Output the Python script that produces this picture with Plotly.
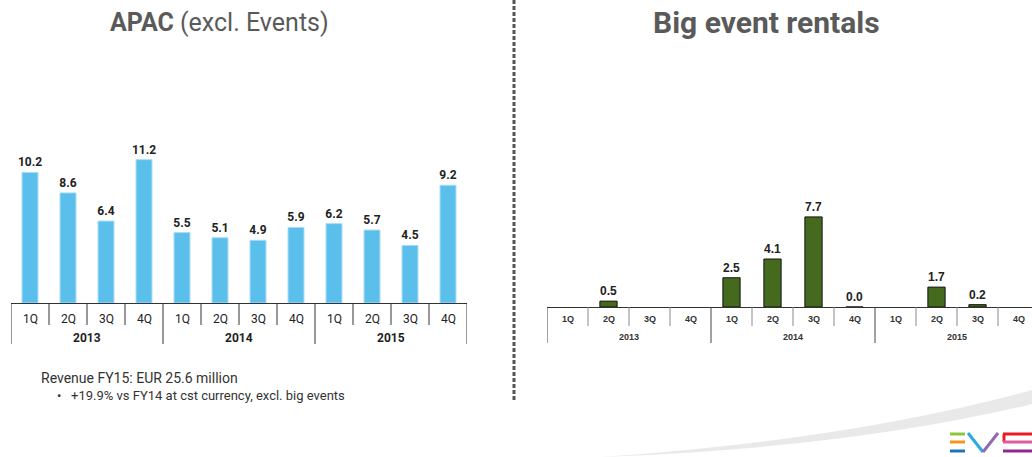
import plotly.graph_objects as go

W, H = 1032, 457

quarters = ["1Q", "2Q", "3Q", "4Q"] * 3
years = ["2013", "2014", "2015"]
apac = [10.2, 8.6, 6.4, 11.2, 5.5, 5.1, 4.9, 5.9, 6.2, 5.7, 4.5, 9.2]
events = [None, 0.5, None, None, 2.5, 4.1, 7.7, 0.0, None, 1.7, 0.2, None]
title_left_bold = "APAC"
title_left_rest = "(excl. Events)"
title_right = "Big event rentals"
note_main = "Revenue FY15: EUR 25.6 million"
note_bullet = "+19.9% vs FY14 at cst currency, excl. big events"


def px(x):
    return x / W


def py(y):
    return 1 - y / H


idx = list(range(len(quarters)))

fig = go.Figure()
fig.add_trace(go.Bar(
    x=idx, y=apac, xaxis="x", yaxis="y", width=0.42,
    marker=dict(color="#5BBFEC", line=dict(color="#A8DCF5", width=1)),
    texttemplate="%{y:.1f}", textposition="outside", constraintext="none",
    textfont=dict(family="Roboto", size=12, color="#222222", weight="bold"),
    cliponaxis=False, showlegend=False, hoverinfo="skip",
))
fig.add_trace(go.Bar(
    x=idx, y=events, xaxis="x2", yaxis="y2", width=0.42,
    marker=dict(color="#456A1E", line=dict(color="#111111", width=1)),
    texttemplate="%{y:.1f}", textposition="outside", constraintext="none",
    textfont=dict(family="Liberation Sans", size=12, color="#222222", weight="bold"),
    cliponaxis=False, showlegend=False, hoverinfo="skip",
))

shapes = []
annotations = []

for i in range(len(quarters) + 1):
    shapes.append(dict(type="line", xref="x", yref="paper", x0=i - 0.5, x1=i - 0.5,
                       y0=py(303), y1=py(344 if i % 4 == 0 else 325),
                       line=dict(color="#333333", width=1)))
    shapes.append(dict(type="line", xref="x2", yref="paper", x0=i - 0.5, x1=i - 0.5,
                       y0=py(307), y1=py(343 if i % 4 == 0 else 326),
                       line=dict(color="#444444" if i % 4 == 0 else "#8a8a8a", width=1)))
for i, q in enumerate(quarters):
    annotations.append(dict(x=i, xref="x", y=py(319), yref="paper", text=q, showarrow=False,
                            xanchor="center", yanchor="middle",
                            font=dict(family="Roboto", size=12, color="#222222")))
    annotations.append(dict(x=i, xref="x2", y=py(319), yref="paper", text=q, showarrow=False,
                            xanchor="center", yanchor="middle",
                            font=dict(family="Liberation Sans", size=9, color="#333333", weight="bold")))
for k, yr in enumerate(years):
    annotations.append(dict(x=4 * k + 1.5, xref="x", y=py(338), yref="paper", text=yr, showarrow=False,
                            xanchor="center", yanchor="middle",
                            font=dict(family="Roboto", size=12, color="#222222", weight="bold")))
    annotations.append(dict(x=4 * k + 1.5, xref="x2", y=py(337), yref="paper", text=yr, showarrow=False,
                            xanchor="center", yanchor="middle",
                            font=dict(family="Liberation Sans", size=9, color="#333333", weight="bold")))

# titles
annotations.append(dict(x=px(219), y=py(22), xref="paper", yref="paper", showarrow=False,
                        xanchor="center", yanchor="middle",
                        text=f"<b>{title_left_bold}</b> {title_left_rest}",
                        font=dict(family="Roboto", size=25, color="#5A5A5A")))
annotations.append(dict(x=px(766), y=py(22), xref="paper", yref="paper", showarrow=False,
                        xanchor="center", yanchor="middle",
                        text=f"<b>{title_right}</b>",
                        font=dict(family="Roboto", size=30, color="#5A5A5A")))

# notes
annotations.append(dict(x=px(39), y=py(378), xref="paper", yref="paper", showarrow=False,
                        xanchor="left", yanchor="middle", text=note_main,
                        font=dict(family="Roboto", size=14, color="#333333")))
annotations.append(dict(x=px(55), y=py(395), xref="paper", yref="paper", showarrow=False,
                        xanchor="left", yanchor="middle", text="•&nbsp;&nbsp;&nbsp;" + note_bullet,
                        font=dict(family="Roboto", size=13, color="#333333")))

# divider
shapes.append(dict(type="line", xref="paper", yref="paper", x0=px(514), x1=px(514),
                   y0=1, y1=py(402), line=dict(color="#555555", width=3, dash="4px,2px")))


def P(x, y):
    return f"{px(x):.5f},{py(y):.5f}"


# swoosh
shapes.append(dict(type="path", xref="paper", yref="paper", layer="below",
                   path=f"M {P(600,457)} Q {P(850,440)} {P(1032,390)} L {P(1032,404)} Q {P(850,448)} {P(600,457)} Z",
                   fillcolor="#E2E2E2", opacity=0.75, line=dict(width=0)))

# logo
logo = [
    (950, 434, 965, 434, "#8CC63F"),
    (950, 442, 965, 442, "#F7941D"),
    (950, 451, 965, 451, "#1C75BC"),
    (968, 433, 983, 452, "#29ABE2"),
    (983, 452, 998, 433, "#8E6BB0"),
    (1003, 434, 1032, 434, "#ED1C24"),
    (1004, 434, 1004, 442, "#ED1C24"),
    (1003, 442, 1032, 442, "#E05A9E"),
    (1003, 451, 1032, 451, "#92278F"),
]
for x0, y0, x1, y1, c in logo:
    shapes.append(dict(type="line", xref="paper", yref="paper", x0=px(x0), y0=py(y0),
                       x1=px(x1), y1=py(y1), line=dict(color=c, width=3)))

fig.update_layout(
    width=W, height=H, margin=dict(l=0, r=0, t=0, b=0),
    paper_bgcolor="white", plot_bgcolor="rgba(0,0,0,0)",
    showlegend=False, bargap=0.58,
    xaxis=dict(domain=[px(11), px(467)], range=[-0.5, 11.5], anchor="y",
               showticklabels=False, showgrid=False, zeroline=False, ticks="",
               showline=True, linecolor="#333333", linewidth=1),
    yaxis=dict(domain=[py(303), 1], range=[0, 303 / 12.8], visible=False),
    xaxis2=dict(domain=[px(547), 1], range=[-0.5, -0.5 + 485 / 41], anchor="y2",
                showticklabels=False, showgrid=False, zeroline=False, ticks="",
                showline=True, linecolor="#333333", linewidth=1),
    yaxis2=dict(domain=[py(307), 1], range=[0, 307 / 11.7], visible=False),
    shapes=shapes, annotations=annotations,
)

fig.write_html("out.html")
